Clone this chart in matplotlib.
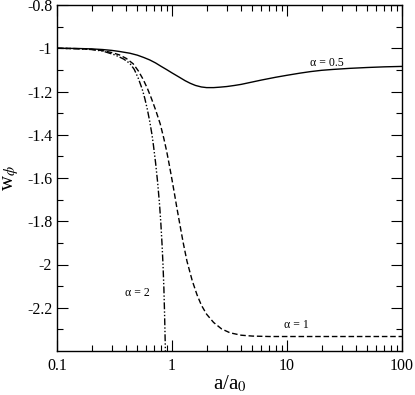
import matplotlib
matplotlib.use("Agg")
import matplotlib.pyplot as plt
from matplotlib.ticker import FixedLocator, NullFormatter

plt.rcParams['font.family'] = ['Liberation Serif', 'DejaVu Serif']
plt.rcParams['mathtext.fontset'] = 'stix'
plt.rcParams['axes.unicode_minus'] = False

# alpha = 0.5 (solid)
a_05 = [0.1, 0.15, 0.2, 0.25, 0.3, 0.35, 0.43, 0.5, 0.57, 0.64, 0.72, 0.8, 0.9,
        1.0, 1.15, 1.3, 1.44, 1.6, 1.8, 2.0, 2.3, 2.6, 3.0, 3.5, 4.0, 5.0, 6.0,
        8.0, 10, 13, 16, 20, 25, 35, 50, 70, 100]
w_05 = [-1.000, -1.001, -1.003, -1.006, -1.010, -1.015, -1.023, -1.032, -1.043,
        -1.054, -1.068, -1.083, -1.099, -1.114, -1.133, -1.150, -1.162, -1.172,
        -1.179, -1.182, -1.182, -1.180, -1.177, -1.172, -1.167, -1.156, -1.147,
        -1.134, -1.125, -1.115, -1.108, -1.102, -1.098, -1.093, -1.089, -1.086,
        -1.084]

# alpha = 1 (dashed)
a_1 = [0.1, 0.15, 0.2, 0.25, 0.3, 0.35, 0.4, 0.46, 0.51, 0.56, 0.61, 0.66, 0.72,
       0.79, 0.85, 0.90, 0.95, 1.0, 1.05, 1.1, 1.18, 1.25, 1.35, 1.5, 1.65, 1.8,
       2.0, 2.3, 2.7, 3.2, 4.0, 5.0, 7.0, 10, 100]
w_1 = [-1.0, -1.002, -1.005, -1.011, -1.02, -1.031, -1.047, -1.072, -1.105,
       -1.143, -1.185, -1.230, -1.285, -1.350, -1.418, -1.478, -1.543, -1.608,
       -1.672, -1.735, -1.825, -1.898, -1.985, -2.075, -2.140, -2.188, -2.230,
       -2.268, -2.298, -2.316, -2.327, -2.331, -2.333, -2.333, -2.333]

# alpha = 2 (dash-dot)
a_2 = [0.1, 0.15, 0.2, 0.25, 0.32, 0.38, 0.43, 0.47, 0.51, 0.55, 0.58, 0.61, 0.64,
       0.67, 0.69, 0.72, 0.75, 0.78, 0.80, 0.82, 0.835, 0.85, 0.862, 0.872, 0.878]
w_2 = [-1.0, -1.002, -1.006, -1.013, -1.031, -1.05, -1.07, -1.098, -1.140, -1.188,
       -1.232, -1.282, -1.338, -1.400, -1.450, -1.530, -1.620, -1.725, -1.81,
       -1.91, -2.00, -2.11, -2.23, -2.35, -2.42]

y_ticks = [-0.8, -1.0, -1.2, -1.4, -1.6, -1.8, -2.0, -2.2]
y_tick_labels = ['-0.8', '-1', '-1.2', '-1.4', '-1.6', '-1.8', '-2', '-2.2']
x_ticks = [0.1, 1, 10, 100]
x_tick_labels = ['0.1', '1', '10', '100']

fig = plt.figure(figsize=(4.15, 3.95), dpi=100)
ax = fig.add_axes([57/415, 44/395, 345/415, 346/395])

ax.plot(a_05, w_05, color='black', lw=1.0, ls='-')
ax.plot(a_1, w_1, color='black', lw=1.0, ls=(0, (4, 2)))
ax.plot(a_2, w_2, color='black', lw=1.0, ls=(0, (5, 1.5, 1, 1.5, 1, 1.5)))

ax.set_xscale('log')
ax.set_xlim(0.1, 100)
ax.set_ylim(-2.4, -0.8)

ax.set_xticks(x_ticks)
ax.set_xticklabels(x_tick_labels)
ax.set_yticks(y_ticks)
ax.set_yticklabels(y_tick_labels)
ax.yaxis.set_minor_locator(FixedLocator([-0.9, -1.1, -1.3, -1.5, -1.7, -1.9, -2.1, -2.3]))
ax.xaxis.set_minor_formatter(NullFormatter())

ax.tick_params(which='both', direction='in', top=True, right=True, labelsize=11.5, width=0.8)
ax.tick_params(which='major', length=8)
ax.tick_params(which='minor', length=4)
ax.tick_params(axis='x', pad=5)
for s in ax.spines.values():
    s.set_linewidth(1.0)

ax.set_xlabel(r'a/a$_0$', fontsize=15, labelpad=0)
ax.set_ylabel(r'w$_\phi$', fontsize=15, labelpad=4)

ax.text(22, -1.07, 'α = 0.5', fontsize=8.5, ha='center', va='center')
ax.text(12.1, -2.279, 'α = 1', fontsize=8.5, ha='center', va='center')
ax.text(0.50, -2.131, 'α = 2', fontsize=8.5, ha='center', va='center')

fig.savefig('out.png', dpi=100)
